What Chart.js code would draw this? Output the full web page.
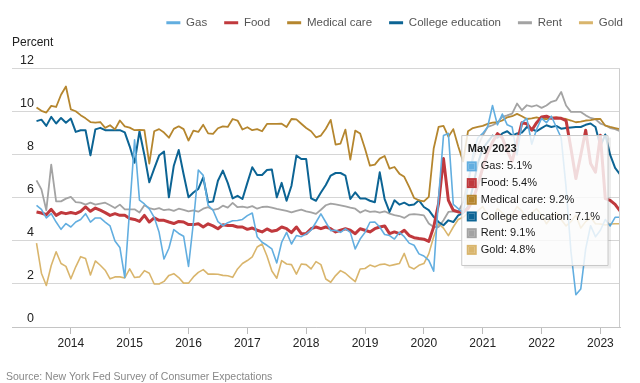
<!DOCTYPE html>
<html>
<head>
<meta charset="utf-8">
<title>Consumer expectations</title>
<script src="https://cdn.jsdelivr.net/npm/chart.js@4.4.1/dist/chart.umd.min.js"></script>
<style>
  html, body { margin: 0; padding: 0; background: #fff; }
  canvas { display: block; }
</style>
</head>
<body>
<canvas id="chart" width="640" height="383"></canvas>
<script>
// monthly survey answers, June 2013 .. May 2023
const startYear = 2013;
const startMonth = 5; // June (0-based)
const monthNames = ['Jan', 'Feb', 'Mar', 'Apr', 'May', 'Jun', 'Jul', 'Aug', 'Sep', 'Oct', 'Nov', 'Dec'];
const yearTicks = [2014, 2015, 2016, 2017, 2018, 2019, 2020, 2021, 2022, 2023];

const gas = [
  5.66, 5.47, 5.07, 5.27, 4.88, 4.54, 4.81, 4.65, 4.88, 5.0, 5.27, 4.88,
  5.07, 5.07, 4.88, 4.7, 4.0, 3.7, 2.3, 5.5, 8.7, 5.9, 5.72, 5.49,
  5.1, 4.4, 3.16, 3.66, 4.53, 4.35, 4.22, 2.82, 4.87, 7.3, 7.05, 5.66,
  5.43, 4.9, 4.71, 4.85, 4.94, 4.95, 5.0, 5.18, 5.3, 4.2, 3.94, 3.8,
  3.63, 2.98, 3.94, 4.4, 3.86, 4.25, 4.2, 4.33, 4.5, 4.87, 5.26, 4.87,
  4.48, 4.5, 4.4, 4.56, 4.4, 3.63, 4.09, 4.4, 4.87, 4.88, 4.65, 4.3,
  4.25, 4.09, 4.4, 4.2, 3.9, 3.8, 3.4, 3.3, 3.1, 2.6, 6.0, 8.9,
  9.0, 5.7, 5.5, 5.3, 6.5, 8.0, 8.8, 9.0, 9.3, 10.3, 9.4, 9.9,
  9.4, 9.3, 8.0, 9.5, 9.7, 8.5, 9.2, 9.7, 9.5, 9.8, 9.3, 8.8,
  6.5, 3.5, 1.5, 1.77, 3.63, 4.71, 4.2, 4.5, 5.0, 4.7, 5.1, 5.1
];
const food = [
  5.35, 5.3, 5.22, 5.47, 5.19, 5.32, 5.27, 5.32, 5.27, 5.38, 5.58, 5.38,
  5.53, 5.43, 5.32, 5.19, 5.27, 5.19, 5.19, 5.04, 5.0, 4.91, 5.19, 4.88,
  5.07, 4.96, 4.96, 4.88, 4.81, 4.91, 4.88, 4.76, 4.76, 4.8, 4.65, 4.8,
  4.7, 4.57, 4.75, 4.72, 4.72, 4.65, 4.65, 4.54, 4.6, 4.5, 4.42, 4.56,
  4.45, 4.5, 4.65, 4.57, 4.39, 4.65, 4.34, 4.34, 4.57, 4.65, 4.57, 4.65,
  4.57, 4.42, 4.5, 4.57, 4.5, 4.34, 4.57, 4.5, 4.42, 4.57, 4.65, 4.7,
  4.34, 4.42, 4.34, 4.5, 4.25, 4.15, 4.11, 4.08, 3.98, 4.65, 5.74, 7.83,
  5.89, 5.43, 5.35, 5.35, 5.5, 5.9, 6.6, 7.4, 8.1, 8.6, 8.99, 8.8,
  8.2, 7.7, 8.6, 9.5, 9.45, 9.15, 9.5, 9.77, 9.8, 9.7, 9.72, 9.7,
  9.6, 8.3, 6.9, 8.0, 9.15, 7.6, 7.2, 8.91, 5.97, 5.89, 5.7, 5.4
];
const medical = [
  10.2, 10.05, 9.97, 10.28, 10.23, 10.8, 11.18, 10.12, 10.03, 9.85, 9.7, 9.53,
  9.5, 9.53, 9.26, 9.38, 9.19, 9.6, 9.33, 9.27, 9.15, 9.16, 9.15, 7.6,
  9.1, 9.2, 9.04, 8.8, 9.21, 9.33, 9.2, 8.67, 9.13, 9.07, 9.4, 9.0,
  8.98, 9.24, 9.33, 9.3, 9.67, 9.6, 9.18, 9.29, 9.15, 9.2, 9.1, 9.44,
  9.44, 9.44, 9.45, 9.3, 9.67, 9.65, 9.45, 9.25, 9.1, 8.82, 8.9, 9.22,
  9.63, 8.48, 8.53, 9.18, 7.78, 9.13, 9.0, 8.29, 7.5, 7.55, 7.83, 7.95,
  7.36, 7.44, 7.13, 6.98, 6.51, 6.0, 5.89, 5.84, 6.05, 8.3, 9.3, 9.35,
  8.85, 9.2, 8.4, 7.7, 9.1, 9.25, 9.3, 9.35, 9.44, 9.5, 9.52, 9.6,
  9.75, 9.8, 9.91, 9.8, 9.67, 9.7, 9.75, 9.68, 9.67, 9.72, 9.75, 9.7,
  9.67, 9.6, 9.52, 9.55, 9.6, 9.62, 9.67, 9.67, 9.36, 9.3, 9.25, 9.2
];
const college = [
  9.57, 9.64, 9.35, 9.77, 9.46, 9.72, 9.5, 9.69, 9.07, 9.15, 9.15, 7.98,
  9.19, 9.26, 9.15, 9.15, 9.15, 9.15, 9.05, 8.4, 7.64, 9.1, 8.0, 6.73,
  7.36, 7.97, 8.16, 6.03, 7.5, 8.23, 7.1, 6.03, 6.25, 6.42, 6.96, 5.8,
  5.83, 6.8, 7.27, 6.7, 5.98, 6.1, 5.95, 6.7, 7.43, 7.07, 7.07, 7.3,
  7.32, 6.03, 6.7, 5.87, 6.57, 7.97, 7.81, 7.81, 5.98, 5.87, 6.25, 6.6,
  7.04, 7.16, 7.16, 7.04, 5.95, 6.26, 5.98, 5.98, 5.87, 5.8, 7.19, 5.95,
  5.35, 5.89, 5.69, 5.78, 5.66, 5.7, 5.89, 5.58, 5.43, 5.12, 4.88, 4.73,
  4.96, 4.88, 5.19, 5.3, 5.6, 6.5, 7.6, 8.3, 8.6, 8.9, 8.8, 9.0,
  9.1, 8.9, 9.0, 9.04, 9.3, 9.2, 9.1, 9.25, 9.38, 9.3, 9.35, 9.22,
  9.25, 9.28, 9.3, 9.3, 9.4, 9.46, 9.3, 8.4, 8.95, 8.0, 7.4, 7.1
];
const rent = [
  6.82, 6.4, 5.43, 7.55, 5.84, 5.84, 5.97, 6.05, 5.81, 5.78, 5.69, 5.78,
  5.69, 5.74, 5.78, 5.66, 5.53, 5.69, 5.47, 5.47, 5.47, 5.32, 5.66, 5.53,
  5.47, 5.53, 5.43, 5.47, 5.4, 5.5, 5.45, 5.38, 5.42, 5.36, 5.5, 5.57,
  5.45, 5.49, 5.64, 5.55, 5.77, 5.57, 5.6, 5.55, 5.62, 5.5, 5.58, 5.6,
  5.55, 5.49, 5.45, 5.4, 5.33, 5.4, 5.46, 5.38, 5.33, 5.26, 5.45, 5.66,
  5.74, 5.7, 5.66, 5.61, 5.55, 5.5, 5.32, 5.43, 5.35, 5.38, 5.32, 5.38,
  5.27, 5.2, 5.16, 5.07, 5.22, 5.25, 5.22, 5.19, 4.81, 4.65, 4.65, 4.96,
  5.35, 5.38, 5.35, 5.8, 6.8, 7.8, 8.4, 8.9, 9.3, 9.38, 9.5, 9.77,
  9.84, 9.92, 10.39, 10.08, 10.31, 10.25, 10.31, 10.19, 10.3, 10.47, 10.54, 10.93,
  10.3, 10.0, 10.0, 10.0, 9.84, 9.72, 9.66, 9.46, 9.38, 9.25, 9.2, 9.1
];
const gold = [
  3.9, 2.5, 1.93, 2.86, 3.5, 2.95, 2.82, 2.24, 2.8, 3.27, 3.18, 2.42,
  3.07, 2.87, 2.64, 2.24, 2.33, 2.33, 2.28, 2.7, 2.3, 2.33, 2.62, 2.5,
  2.0, 2.0, 2.12, 2.4, 2.48, 2.3, 2.04, 2.04, 2.33, 2.54, 2.67, 2.46,
  2.46, 2.45, 2.4, 2.38, 2.31, 2.7, 2.95, 3.09, 3.26, 3.72, 3.86, 3.3,
  2.6, 2.27, 3.09, 2.93, 2.9, 2.46, 2.93, 2.9, 2.7, 3.04, 2.9, 2.23,
  2.08, 2.39, 2.62, 2.5, 2.3, 2.11, 2.7, 2.72, 2.88, 2.8, 2.9, 2.93,
  2.85, 2.9, 2.95, 3.42, 2.8, 2.7, 2.87, 2.95, 3.4, 4.2, 4.8, 4.6,
  4.25, 4.65, 5.0, 5.1, 5.3, 5.0, 5.4, 5.6, 5.2, 5.0, 5.5, 5.3,
  4.9, 5.2, 5.6, 5.4, 5.0, 5.3, 5.5, 5.2, 4.8, 5.1, 5.3, 5.0,
  4.7, 4.9, 5.2, 4.6, 4.9, 5.1, 4.8, 4.79, 4.74, 4.79, 4.8, 4.8
];

const seriesNames = ['Gas', 'Food', 'Medical care', 'College education', 'Rent', 'Gold'];
const seriesData = [gas, food, medical, college, rent, gold];
const seriesColors = ['#62aee0', '#c0393d', '#b5862e', '#0c6494', '#a3a3a3', '#d9b56c'];
const seriesWidths = [1.6, 3, 1.8, 2, 1.8, 1.6];

function monthX(i) {
  return startYear + (startMonth + i) / 12;
}
function monthLabel(i) {
  const m = startMonth + i;
  return monthNames[m % 12] + ' ' + (startYear + Math.floor(m / 12));
}

Chart.defaults.font.family = "'Liberation Sans', Arial, sans-serif";

Chart.Tooltip.positioners.pinned = function (items) {
  if (!items.length) return false;
  const yScale = this.chart.scales.y;
  return { x: items[0].element.x - 12, y: yScale.getPixelForValue(8.9), xAlign: 'right', yAlign: 'top' };
};

// thin vertical line under the hovered month
const hoverLine = {
  id: 'hoverLine',
  afterDatasetsDraw(chart) {
    const act = chart.tooltip.getActiveElements();
    if (!act.length) return;
    const x = Math.round(act[0].element.x) - 0.5;
    const ctx = chart.ctx;
    ctx.save();
    ctx.strokeStyle = '#cccccc';
    ctx.lineWidth = 1;
    ctx.beginPath();
    ctx.moveTo(x, chart.chartArea.top);
    ctx.lineTo(x, chart.chartArea.bottom);
    ctx.stroke();
    ctx.restore();
  },
  beforeTooltipDraw(chart) {
    const tt = chart.tooltip;
    if (!tt.opacity) return;
    const ctx = chart.ctx;
    ctx.save();
    ctx.fillStyle = 'rgba(0,0,0,0.07)';
    ctx.fillRect(tt.x + 2, tt.y + 2, tt.width + 1, tt.height + 1);
    ctx.restore();
  }
};

const ctx = document.getElementById('chart').getContext('2d');
const chart = new Chart(ctx, {
  type: 'line',
  data: {
    datasets: seriesNames.map((name, k) => ({
      label: name,
      data: seriesData[k].map((v, i) => ({ x: monthX(i), y: v })),
      borderColor: seriesColors[k],
      backgroundColor: seriesColors[k],
      borderWidth: seriesWidths[k],
      borderJoinStyle: 'round',
      pointRadius: 0,
      pointHoverRadius: 0,
      tension: 0
    }))
  },
  options: {
    responsive: false,
    animation: false,
    events: [],
    devicePixelRatio: 1,
    layout: { padding: { left: 6, right: 0, top: 0, bottom: 0 } },
    scales: {
      x: {
        type: 'linear',
        min: startYear,
        max: monthX(gas.length - 1),
        afterBuildTicks: axis => { axis.ticks = yearTicks.map(v => ({ value: v })); },
        grid: { drawOnChartArea: false, drawTicks: true, tickLength: 7, color: '#bdbdbd' },
        border: { display: true, color: '#c4c4c4' },
        ticks: {
          autoSkip: false, maxRotation: 0, padding: 2,
          color: '#222', font: { size: 12 },
          callback: v => String(v)
        }
      },
      y: {
        min: 0,
        max: 12,
        afterFit: s => { s.width = 6; },
        ticks: {
          stepSize: 2, mirror: true, crossAlign: 'far', padding: 8, labelOffset: -8,
          color: '#222', font: { size: 12.5 }
        },
        grid: { color: '#d6d6d6', drawTicks: false },
        border: { display: false }
      },
      pad: {
        type: 'linear',
        position: 'right',
        display: true,
        afterFit: s => { s.width = 20; },
        grid: { display: false },
        ticks: { display: false },
        border: { display: false }
      }
    },
    plugins: {
      legend: {
        position: 'top',
        align: 'end',
        labels: {
          boxWidth: 14, boxHeight: 3, padding: 17, color: '#555', font: { size: 11.5 },
          generateLabels: ch => ch.data.datasets.map((d, i) => ({
            text: d.label, fillStyle: d.borderColor, strokeStyle: d.borderColor,
            lineWidth: 0, hidden: false, datasetIndex: i, fontColor: '#555'
          }))
        }
      },
      title: {
        display: true,
        text: 'Percent',
        align: 'start',
        fullSize: false,
        weight: 500,
        color: '#222',
        font: { size: 12, weight: 'normal' },
        padding: { top: -3, bottom: 19 }
      },
      subtitle: {
        display: true,
        text: 'Source: New York Fed Survey of Consumer Expectations',
        position: 'bottom',
        align: 'start',
        color: '#888',
        font: { size: 10.5 },
        padding: { top: 18, bottom: 0 }
      },
      tooltip: {
        enabled: true,
        mode: 'index',
        intersect: false,
        position: 'pinned',
        backgroundColor: 'rgba(255,255,255,0.82)',
        borderColor: '#c8c8c8',
        borderWidth: 1,
        cornerRadius: 0,
        caretSize: 0,
        caretPadding: 0,
        padding: { top: 7, bottom: 9, left: 6, right: 8 },
        titleColor: '#1a1a1a',
        titleFont: { size: 11, weight: 'bold' },
        titleMarginBottom: 4,
        bodyColor: '#1a1a1a',
        bodyFont: { size: 11 },
        bodySpacing: 3.5,
        boxWidth: 8,
        boxHeight: 8,
        boxPadding: 3,
        displayColors: true,
        multiKeyBackground: 'rgba(0,0,0,0)',
        callbacks: {
          title: items => monthLabel(items[0].dataIndex),
          label: item => item.dataset.label + ': ' + item.parsed.y.toFixed(1) + '%',
          labelColor: item => ({
            borderColor: item.dataset.borderColor,
            backgroundColor: item.dataset.borderColor,
            borderWidth: 2, borderRadius: 0
          })
        }
      }
    }
  },
  plugins: [hoverLine]
});

// show the reading for the latest month, as in the screenshot
const last = gas.length - 1;
const active = chart.data.datasets.map((d, i) => ({ datasetIndex: i, index: last }));
chart.tooltip.setActiveElements(active, { x: 0, y: 0 });
chart.update();
</script>
</body>
</html>
